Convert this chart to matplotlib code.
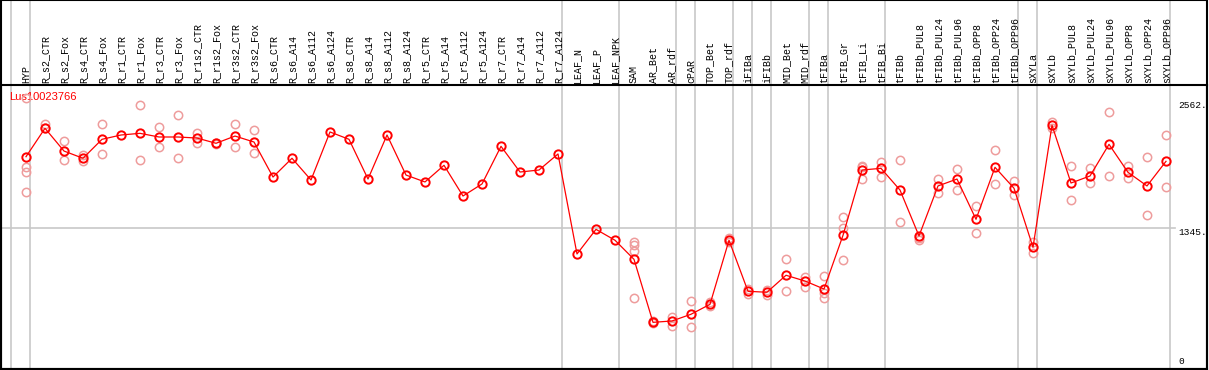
import matplotlib
matplotlib.use("Agg")
import matplotlib.pyplot as plt
import matplotlib.transforms as mtransforms
from matplotlib.patches import Rectangle
import numpy as np

gene = "Lus10023766"

samples = ["HYP", "R_s2_CTR", "R_s2_Fox", "R_s4_CTR", "R_s4_Fox", "R_r1_CTR", "R_r1_Fox",
           "R_r3_CTR", "R_r3_Fox", "R_r1s2_CTR", "R_r1s2_Fox", "R_r3s2_CTR", "R_r3s2_Fox",
           "R_s6_CTR", "R_s6_A14", "R_s6_A112", "R_s6_A124", "R_s8_CTR", "R_s8_A14",
           "R_s8_A112", "R_s8_A124", "R_r5_CTR", "R_r5_A14", "R_r5_A112", "R_r5_A124",
           "R_r7_CTR", "R_r7_A14", "R_r7_A112", "R_r7_A124", "LEAF_N", "LEAF_P", "LEAF_NPK",
           "SAM", "AR_Bet", "AR_rdf", "cPAR", "TOP_Bet", "TOP_rdf", "iFIBa", "iFIBb",
           "MID_Bet", "MID_rdf", "tFIBa", "tFIB_Gr", "tFIB_Li", "tFIB_Bi", "tFIBb",
           "tFIBb_PUL8", "tFIBb_PUL24", "tFIBb_PUL96", "tFIBb_OPP8", "tFIBb_OPP24",
           "tFIBb_OPP96", "sXYLa", "sXYLb", "sXYLb_PUL8", "sXYLb_PUL24", "sXYLb_PUL96",
           "sXYLb_OPP8", "sXYLb_OPP24", "sXYLb_OPP96"]

# mean expression per sample
means = [2028, 2299, 2082, 2013, 2194, 2235, 2251, 2216, 2216, 2206, 2156, 2225, 2168,
         1834, 2013, 1806, 2264, 2194, 1815, 2235, 1853, 1787, 1946, 1653, 1768,
         2127, 1882, 1901, 2054, 1100, 1335, 1231,
         1049, 448, 461, 525, 620, 1231, 744, 735, 897, 842, 766, 1278, 1901, 1917, 1710,
         1272, 1749, 1815, 1431, 1927, 1727, 1164, 2328, 1777, 1844, 2146, 1879, 1749, 1984]

# replicate values (empty where none drawn)
reps = [[2588, 1927, 1885, 1688], [2340, 2302], [2178, 1994], [2044, 1987], [2337, 2051],
        [], [2518, 1994], [2308, 2118], [2423, 2013], [2257, 2156], [2159, 2149],
        [2337, 2118], [2280, 2060],
        [], [], [], [], [], [], [], [], [], [], [], [], [], [], [], [], [], [], [],
        [1211, 1186, 1126, 680], [456, 442], [502, 416], [652, 403], [645, 604],
        [1255, 1214], [769, 718], [709, 756], [1049, 744], [883, 788], [887, 725, 677],
        [1453, 1345, 1040], [1942, 1930, 1812], [1980, 1837], [1997, 1408],
        [1233, 1252], [1815, 1679], [1908, 1707], [1558, 1297], [2089, 1768],
        [1793, 1663], [1217, 1112], [2359, 2302], [1939, 1612], [1917, 1774],
        [2452, 1844], [1942, 1828], [2025, 1472], [2232, 1736]]

group_ends = [-1, 0, 28, 31, 34, 35, 37, 38, 39, 41, 42, 45, 52, 53, 60]
y_marks = [2562, 1345, 0]
y_mark_labels = ["2562.", "1345.", "0"]

W, H = 1209, 370
fig = plt.figure(figsize=(W / 100, H / 100), dpi=100)
ax = fig.add_axes([1 / W, 0.7 / H, 1206 / W, 284.3 / H])
ax.set_xlim(-1.316, 62.158)
ax.set_ylim(0, 2712)
ax.set_xticks([])
ax.set_yticks([])
for s in ax.spines.values():
    s.set_linewidth(1.5)
    s.set_color("black")

x = np.arange(len(samples))
grid_col = "#c8c8c8"

# group separators run through the label strip as well
for g in group_ends:
    ax.axvline(g + 0.21, ymin=0, ymax=369.3 / 284.3, color=grid_col, lw=1.2,
               clip_on=False, zorder=0)
ax.plot([-1.316, 60.5], [y_marks[1], y_marks[1]], color=grid_col, lw=1.2, zorder=0)

# replicates
for i, r in enumerate(reps):
    if r:
        ax.plot([x[i]] * len(r), r, "o", ms=6, mfc="none", mec="#ee9c9c", mew=1.1,
                zorder=2, clip_on=False)

ax.plot(x, means, "-", color="red", lw=0.9, zorder=3)
ax.plot(x, means, "o", ms=6, mfc="none", mec="red", mew=1.4, zorder=4)

# sample labels on top
trans = mtransforms.blended_transform_factory(ax.transData, ax.transAxes) + \
    mtransforms.ScaledTranslation(0, 2 / 100, fig.dpi_scale_trans)
for i, lab in enumerate(samples):
    ax.text(x[i], 1.0, lab, transform=trans, rotation=90, ha="center", va="bottom",
            family="Liberation Mono", fontsize=7.2, clip_on=False)

ax.text(-0.9, 2600, gene, color="red", family="Liberation Sans", fontsize=8,
        ha="left", va="center", zorder=1)

for v, lab in zip(y_marks, y_mark_labels):
    va = "bottom" if v == 0 else "top"
    off = 30 if v == 0 else 0
    ax.text(60.63, v + off, lab, ha="left", va=va, family="Liberation Mono", fontsize=6.8)

fig.add_artist(Rectangle((1 / W, 0.7 / H), 1206 / W, 369 / H, transform=fig.transFigure,
                         fill=False, ec="black", lw=1.5))

fig.savefig("out.png", dpi=100)
